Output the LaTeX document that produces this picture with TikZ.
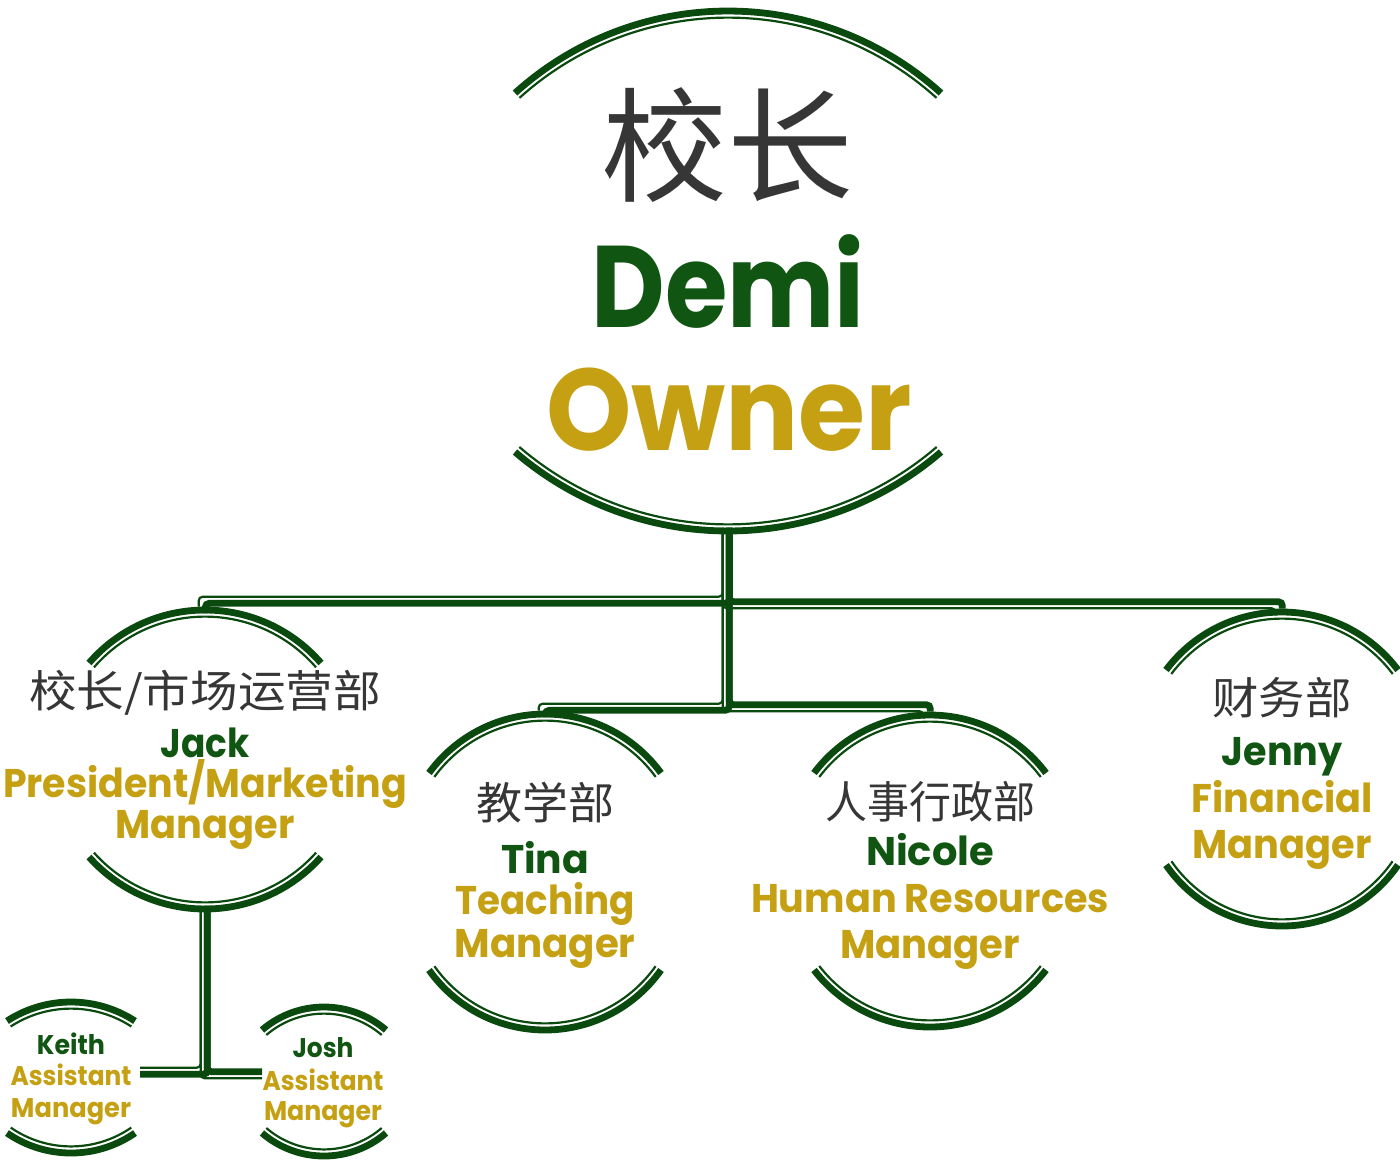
\documentclass[tikz,border=0pt]{standalone}
\usepackage{fontspec}
\usepackage{graphicx}
\usetikzlibrary{calc}
\setmainfont{Poppins}
\newfontfamily\cjk{Noto Sans CJK SC}
\definecolor{lgreen}{HTML}{0A4A0F}
\definecolor{tgreen}{HTML}{105612}
\definecolor{gold}{HTML}{C5A012}
\definecolor{cjkgrey}{HTML}{363636}
\newsavebox\fitbox
\newcommand\fitw[2]{\sbox\fitbox{#2}\pgfmathsetmacro\fitsx{#1/\the\wd\fitbox}\scalebox{\fitsx}[1]{\usebox\fitbox}}
% arcs: cx, top apex y, top end y, bottom end y, bottom apex y, half chord
\newcommand\archpair[6]{%
  \pgfmathsetmacro\hh{#6/10}%
  \pgfmathsetmacro\sT{(#3-#2)/10}%
  \pgfmathsetmacro\RT{10*(\hh*\hh+\sT*\sT)/(2*\sT)}%
  \pgfmathsetmacro\aT{asin(#6/\RT)}%
  \pgfmathsetmacro\cT{#2+\RT}%
  \pgfmathsetmacro\dA{-90-\aT}\pgfmathsetmacro\dB{-90+\aT}%
  \draw[arcthick] plot[domain=\dA:\dB,samples=60] ({#1+\RT*cos(\x)},{\cT+\RT*sin(\x)});
  \draw[arcthin] plot[domain=\dA:\dB,samples=60] ({#1+(\RT-6.6)*cos(\x)},{\cT+(\RT-6.6)*sin(\x)});
  \pgfmathsetmacro\sB{(#5-#4)/10}%
  \pgfmathsetmacro\RB{10*(\hh*\hh+\sB*\sB)/(2*\sB)}%
  \pgfmathsetmacro\aB{asin(#6/\RB)}%
  \pgfmathsetmacro\cB{#5-\RB}%
  \pgfmathsetmacro\dC{90-\aB}\pgfmathsetmacro\dD{90+\aB}%
  \draw[arcthick] plot[domain=\dC:\dD,samples=60] ({#1+\RB*cos(\x)},{\cB+\RB*sin(\x)});
  \draw[arcthin] plot[domain=\dC:\dD,samples=60] ({#1+(\RB-6.6)*cos(\x)},{\cB+(\RB-6.6)*sin(\x)});
}
% connector down-across-down: from, to, mid offset, sign (1 west, -1 east)
\newcommand\connSWS[4]{%
  \draw[conthick] ($(#1)+(3.3,3.3*#4)$) |- ($(#2)+(3.3,{#3+3.3*#4})$) -- ($(#2)+(3.3,3.3*#4)$);
  \draw[conthin] ($(#1)+(-3.3,-3.3*#4)$) |- ($(#2)+(-3.3,{#3-3.3*#4})$) -- ($(#2)+(-3.3,-3.3*#4)$);
}
% connector down-across: from, to, sign (1 west, -1 east)
\newcommand\connSW[3]{%
  \draw[conthick] ($(#1)+(3.3,3.3*#3)$) |- ($(#2)+(0,3.3*#3)$);
  \draw[conthin] ($(#1)+(-3.3,-3.3*#3)$) |- ($(#2)+(0,-3.3*#3)$);
}
\tikzset{
  arcthick/.style={draw=lgreen, line width=3.4pt},
  arcthin/.style={draw=lgreen, line width=1.1pt},
  conthick/.style={draw=lgreen, line width=3.4pt, rounded corners=2pt},
  conthin/.style={draw=lgreen, line width=1.1pt, rounded corners=2pt},
  cjkbig/.style={inner sep=0pt, anchor=center, text=cjkgrey, font=\cjk\fontsize{62}{62}\selectfont},
  cjkmid/.style={inner sep=0pt, anchor=center, text=cjkgrey, font=\cjk\fontsize{22}{22}\selectfont},
  namebig/.style={inner sep=0pt, anchor=base, text=tgreen, font=\bfseries\fontsize{58}{58}\selectfont},
  rolebig/.style={inner sep=0pt, anchor=base, text=gold, font=\bfseries\fontsize{58}{58}\selectfont},
  namemid/.style={inner sep=0pt, anchor=base, text=tgreen, font=\bfseries\fontsize{20}{20}\selectfont},
  rolemid/.style={inner sep=0pt, anchor=base, text=gold, font=\bfseries\fontsize{20}{20}\selectfont},
  namesm/.style={inner sep=0pt, anchor=base, text=tgreen, font=\bfseries\fontsize{13.5}{13.5}\selectfont},
  rolesm/.style={inner sep=0pt, anchor=base, text=gold, font=\bfseries\fontsize{13.5}{13.5}\selectfont},
}
\begin{document}
\begin{tikzpicture}[x=0.5pt,y=-0.5pt]
\fill[white] (0,0) rectangle (1400,1161);
\useasboundingbox (0,0) rectangle (1400,1161);

% connector end points
\coordinate (demi-s) at (726,531);
\coordinate (jack-n) at (202,610);
\coordinate (jenny-n) at (1279,612);
\coordinate (tina-n) at (542,714);
\coordinate (nicole-n) at (927,715);
\coordinate (jack-s) at (204,909);
\coordinate (keith-e) at (140,1071);
\coordinate (josh-w) at (262,1075);

% connectors
\connSWS{demi-s}{jack-n}{-10}{1}
\connSWS{demi-s}{jenny-n}{-7}{-1}
\connSWS{demi-s}{tina-n}{-7}{1}
\connSWS{demi-s}{nicole-n}{-7}{-1}
\connSW{jack-s}{keith-e}{1}
\connSW{jack-s}{josh-w}{-1}

% arcs
\archpair{728}{11}{93}{452}{531}{213}
\archpair{205}{610}{663}{857}{909}{116}
\archpair{545}{714}{773}{970}{1030}{116}
\archpair{930}{715}{773}{970}{1027}{116}
\archpair{1282}{612}{670}{865}{926}{116}
\archpair{71}{1002}{1021}{1133}{1153}{64}
\archpair{324}{1007}{1030}{1133}{1156}{62}

% texts
\node[cjkbig] (demi-cn) at (727,145) {\fitw{126}{校长}};
\node[namebig] (demi-name) at (728,327) {\fitw{136.5}{Demi}};
\node[rolebig] (demi-role) at (729,450) {\fitw{183}{Owner}};

\node[cjkmid] (jack-cn) at (205,693) {\fitw{176}{校长/市场运营部}};
\node[namemid] (jack-name) at (205,757) {\fitw{44.5}{Jack}};
\node[rolemid] (jack-role1) at (205,797) {\fitw{202}{President/Marketing}};
\node[rolemid] (jack-role2) at (205,838) {\fitw{89.5}{Manager}};

\node[cjkmid] (tina-cn) at (545,803) {\fitw{69}{教学部}};
\node[namemid] (tina-name) at (545,873) {\fitw{44}{Tina}};
\node[rolemid] (tina-role1) at (545,914) {\fitw{89.5}{Teaching}};
\node[rolemid] (tina-role2) at (545,957) {\fitw{90.5}{Manager}};

\node[cjkmid] (nicole-cn) at (930,802) {\fitw{105}{人事行政部}};
\node[namemid] (nicole-name) at (930,865) {\fitw{64}{Nicole}};
\node[rolemid] (nicole-role1) at (930,912) {\fitw{179}{Human Resources}};
\node[rolemid] (nicole-role2) at (930,958) {\fitw{90}{Manager}};

\node[cjkmid] (jenny-cn) at (1282,698) {\fitw{69.5}{财务部}};
\node[namemid] (jenny-name) at (1282,765) {\fitw{60.5}{Jenny}};
\node[rolemid] (jenny-role1) at (1282,812) {\fitw{90.5}{Financial}};
\node[rolemid] (jenny-role2) at (1282,858) {\fitw{89.5}{Manager}};

\node[namesm] (keith-name) at (71,1054) {\fitw{34}{Keith}};
\node[rolesm] (keith-role1) at (71,1085) {\fitw{60.5}{Assistant}};
\node[rolesm] (keith-role2) at (71,1117) {\fitw{60}{Manager}};

\node[namesm] (josh-name) at (323,1057) {\fitw{30.5}{Josh}};
\node[rolesm] (josh-role1) at (323,1090) {\fitw{60.5}{Assistant}};
\node[rolesm] (josh-role2) at (323,1120) {\fitw{59}{Manager}};
\end{tikzpicture}
\end{document}
